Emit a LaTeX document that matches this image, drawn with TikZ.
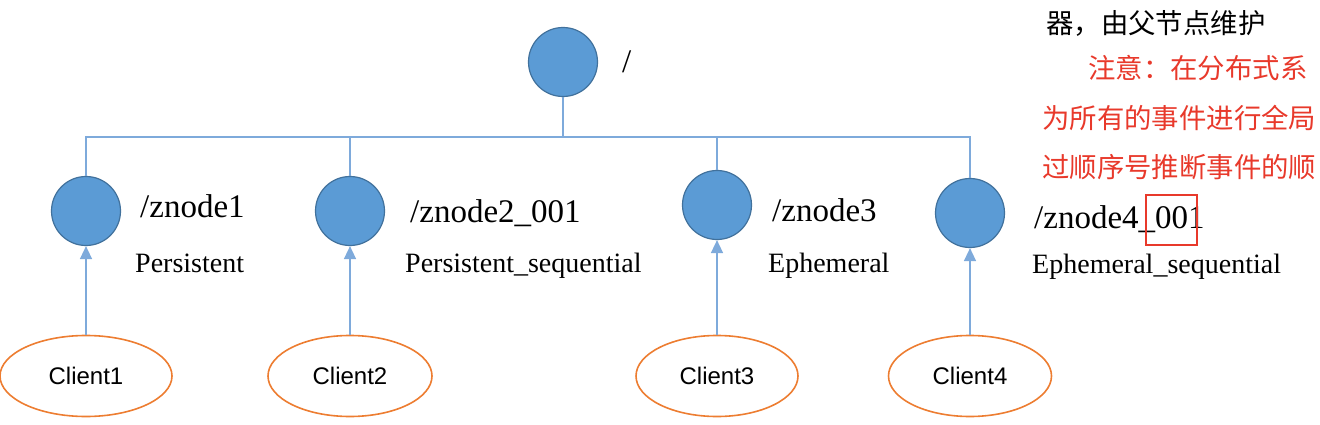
\documentclass[tikz,border=0pt]{standalone}
\usepackage{fontspec}
\setmainfont{Liberation Serif}
\newfontfamily\clientfont{Liberation Sans}
\newfontfamily\cjk{Noto Sans CJK SC}
\usetikzlibrary{arrows.meta,shapes.geometric}
\definecolor{nodeblue}{HTML}{5B9BD5}
\definecolor{nodeedge}{HTML}{41719C}
\definecolor{lineblue}{HTML}{7EAADB}
\definecolor{clientorange}{HTML}{ED7D31}
\definecolor{notered}{HTML}{E8392B}
\tikzset{
  znode/.style={circle, fill=nodeblue, draw=nodeedge, line width=1.2pt,
    minimum size=69pt, inner sep=0pt},
  client/.style={ellipse, draw=clientorange, line width=1.6pt, fill=white,
    minimum width=164pt, minimum height=81pt, inner sep=0pt,
    font=\clientfont\fontsize{24}{28}\selectfont},
  link/.style={lineblue, line width=1.5pt},
  uplink/.style={link, -{Triangle[length=13pt,width=12pt]}},
  pathlabel/.style={anchor=base west, inner sep=0pt, font=\fontsize{33}{38}\selectfont},
  kindlabel/.style={anchor=base west, inner sep=0pt, font=\fontsize{28}{32}\selectfont},
  noteline/.style={anchor=west, inner sep=0pt, font=\cjk\fontsize{27.4}{32}\selectfont}
}

\begin{document}
\begin{tikzpicture}[x=1pt, y=-1pt]
  \useasboundingbox (0,0) rectangle (1320,425);
  \clip (0,0) rectangle (1320,425);

  % root
  \node[znode] (root) at (563,62) {};
  \node[anchor=west, inner sep=0pt, font=\fontsize{33}{38}\selectfont] (rootname) at (622,62) {/};

  % children and clients
  \foreach \i/\x/\y/\w in {1/86/211/172, 2/350/211/164, 3/717/205/162, 4/970/213/163}{
    \node[znode] (z\i) at (\x,\y) {};
    \node[client, minimum width=\w pt] (c\i) at (\x,376) {Client\i};
    \draw[uplink] (c\i.north) -- (z\i.south);
  }

  % tree lines
  \coordinate (bar) at (563,137);
  \draw[link] (root.south) -- (bar);
  \draw[link] (z1.north) |- (bar) -| (z4.north);
  \draw[link] (z2.north) -- (z2.north |- bar);
  \draw[link] (z3.north) -- (z3.north |- bar);

  % node names and kinds
  \node[pathlabel] (name1) at (140,217) {/znode1};
  \node[kindlabel] (kind1) at (135,272) {Persistent};
  \node[pathlabel] (name2) at (410,222) {/znode2\_001};
  \node[kindlabel] (kind2) at (405,272) {Persistent\_sequential};
  \node[pathlabel] (name3) at (772,221) {/znode3};
  \node[kindlabel] (kind3) at (768,272) {Ephemeral};
  \node[pathlabel] (name4) at (1034,228) {/znode4\_001};
  \node[kindlabel] (kind4) at (1032,273) {Ephemeral\_sequential};

  % highlight on the sequence number
  \draw[notered, line width=2.8pt] (1146,195) rectangle (1197,245);

  % note text
  \node[noteline] (note1) at (1046,23) {器，由父节点维护};
  \node[noteline, text=notered] (note2) at (1088,68) {注意：在分布式系};
  \node[noteline, text=notered] (note3) at (1042,118) {为所有的事件进行全局};
  \node[noteline, text=notered] (note4) at (1042,167) {过顺序号推断事件的顺};
\end{tikzpicture}
\end{document}
